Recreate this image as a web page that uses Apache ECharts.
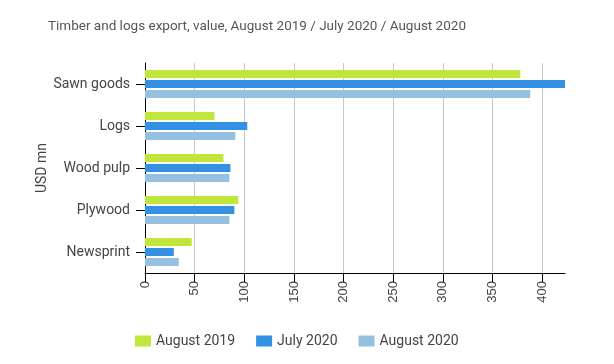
<!DOCTYPE html>
<html><head><meta charset="utf-8">
<script src="https://cdn.jsdelivr.net/npm/echarts@6/dist/echarts.min.js"></script>
<style>html,body{margin:0;padding:0;background:#fff}#c{width:614px;height:364px}</style>
</head><body><div id="c"></div>
<script>
const categories = ['Sawn goods', 'Logs', 'Wood pulp', 'Plywood', 'Newsprint'];
const seriesNames = ['August 2019', 'July 2020', 'August 2020'];
const aug2019 = [378, 70, 79, 94, 47];
const jul2020 = [423, 103, 86, 90, 29];
const aug2020 = [388, 91, 85, 85, 34];
const xTicks = [0, 50, 100, 150, 200, 250, 300, 350, 400];
const colors = ['#c0e63c', '#3390e3', '#96c0e0'];

const chart = echarts.init(document.getElementById('c'), null, {renderer: 'canvas'});
const mk = (name, data, i) => ({
  name, type: 'bar', data, barWidth: 8, barGap: '25%',
  itemStyle: {color: colors[i]}, animation: false
});
chart.setOption({
  animation: false,
  title: {
    text: 'Timber and logs export, value, August 2019 / July 2020 / August 2020',
    left: 43, top: 15,
    textStyle: {fontFamily: 'Roboto', fontSize: 13.5, fontWeight: 'normal', color: '#555'}
  },
  legend: {
    left: 130, top: 329, itemWidth: 16, itemHeight: 11, itemGap: 21,
    icon: 'rect',
    textStyle: {fontFamily: 'Roboto', fontSize: 14, color: '#444'},
    data: seriesNames
  },
  grid: {left: 145, right: 49, top: 63, bottom: 91, containLabel: false},
  xAxis: {
    type: 'value', min: 0, max: 423, interval: 50,
    axisLine: {show: true, lineStyle: {color: '#000', width: 1}},
    axisTick: {show: true, length: 9, lineStyle: {color: '#000'}, customValues: xTicks},
    axisLabel: {rotate: 90, margin: 8, fontFamily: 'Liberation Sans', fontSize: 13, color: '#444',
      customValues: xTicks},
    splitLine: {show: true, lineStyle: {color: '#c8c8c8', width: 1}}
  },
  yAxis: {
    type: 'category', data: categories, inverse: true,
    name: 'USD mn', nameLocation: 'middle', nameGap: 96, nameRotate: 90, nameMoveOverlap: false,
    nameTextStyle: {fontFamily: 'Roboto', fontSize: 14, color: '#444'},
    axisLine: {show: true, lineStyle: {color: '#000', width: 1}},
    axisTick: {show: true, alignWithLabel: true, length: 9, lineStyle: {color: '#000'}},
    axisLabel: {margin: 15, fontFamily: 'Roboto', fontSize: 14, color: '#444'},
    splitLine: {show: false}
  },
  series: [mk(seriesNames[0], aug2019, 0), mk(seriesNames[1], jul2020, 1), mk(seriesNames[2], aug2020, 2)]
});
</script></body></html>
